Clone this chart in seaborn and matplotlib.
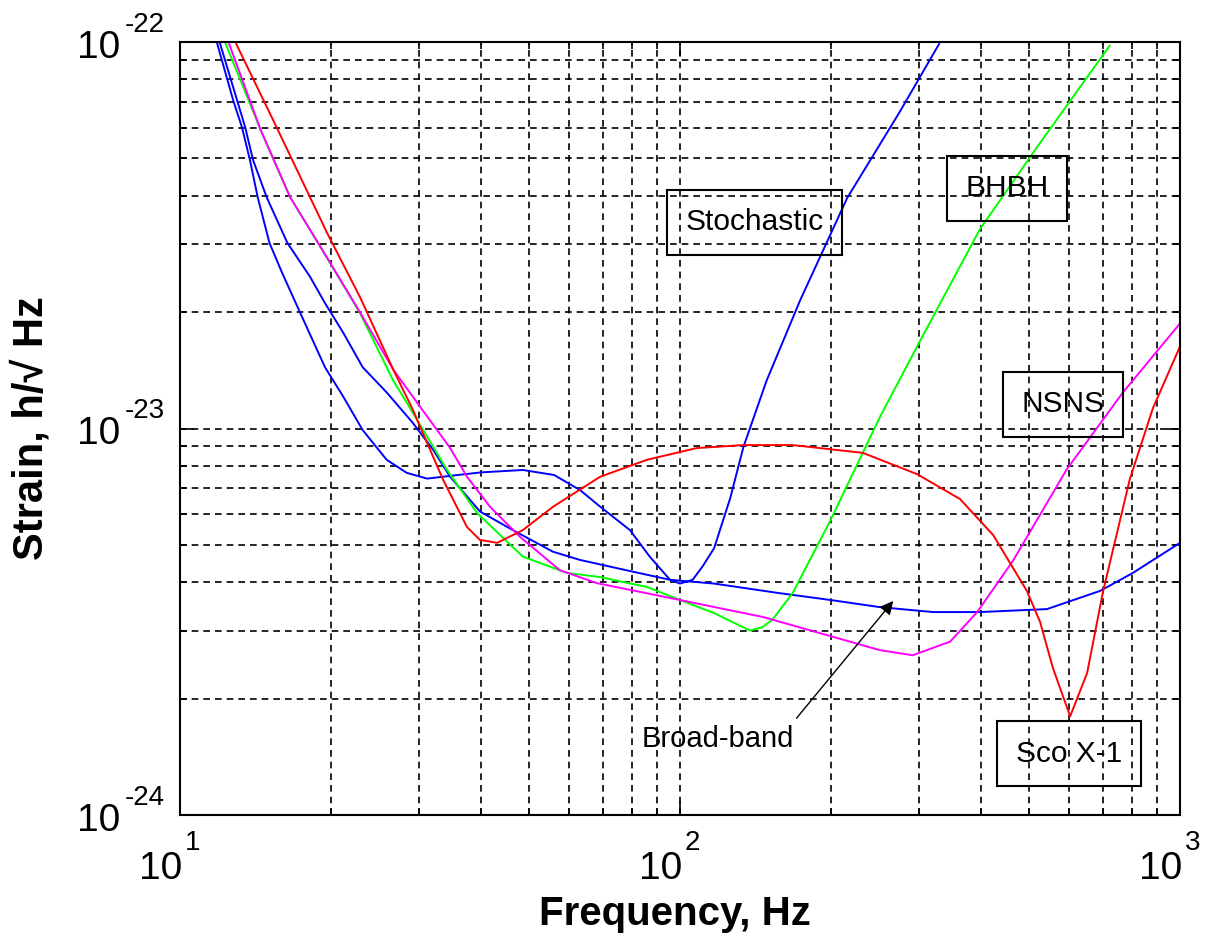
import numpy as np
import pandas as pd
import seaborn as sns
import matplotlib.pyplot as plt
from matplotlib.ticker import LogLocator, NullFormatter

# --- curve data (Hz, strain / sqrt(Hz)) ---
freq_stoch = [11.86, 12.77, 13.3, 13.8, 14.3, 15.1, 16.0, 17.4, 19.5, 21.2, 23.2,
              25.9, 28.4, 31.2, 35, 40, 48.5, 56, 63.1, 69, 79.4, 87, 95.5, 100,
              106, 111, 117, 126, 134, 149, 174, 216, 275, 330]
strain_stoch = [9.94e-23, 7.08e-23, 6.02e-23, 4.95e-23, 3.97e-23, 3.02e-23, 2.53e-23,
                1.99e-23, 1.44e-23, 1.21e-23, 9.9e-24, 8.3e-24, 7.68e-24, 7.42e-24,
                7.55e-24, 7.7e-24, 7.81e-24, 7.58e-24, 6.93e-24, 6.3e-24, 5.46e-24,
                4.66e-24, 4.06e-24, 3.97e-24, 4.06e-24, 4.4e-24, 4.9e-24, 6.6e-24,
                8.98e-24, 1.33e-23, 2.15e-23, 3.95e-23, 6.59e-23, 9.9e-23]

freq_broad = [12.0, 13.0, 13.5, 14.0, 14.9, 16.4, 18.2, 19.5, 21.2, 23.2, 25.9, 29.2,
              32.1, 34.7, 39.8, 46.3, 55.7, 63.1, 78, 95.5, 117, 158, 200, 251, 321,
              398, 542, 692, 805, 1000]
strain_broad = [1e-22, 7.08e-23, 6.02e-23, 4.95e-23, 3.97e-23, 3.02e-23, 2.47e-23,
                2.11e-23, 1.77e-23, 1.44e-23, 1.24e-23, 1.035e-23, 8.8e-24, 7.5e-24,
                6.1e-24, 5.46e-24, 4.8e-24, 4.57e-24, 4.3e-24, 4.06e-24, 3.97e-24,
                3.75e-24, 3.6e-24, 3.45e-24, 3.35e-24, 3.35e-24, 3.41e-24, 3.8e-24,
                4.23e-24, 5.06e-24]

freq_bhbh = [12.3, 14.5, 16.6, 19.1, 22.9, 26.7, 29.2, 34.2, 39.3, 48.5, 59.4, 69,
             85.9, 100, 117, 138, 146, 153, 168, 200, 251, 298, 398, 518, 724]
strain_bhbh = [1e-22, 5.92e-23, 3.97e-23, 2.95e-23, 1.99e-23, 1.33e-23, 1.1e-23,
               7.81e-24, 6.04e-24, 4.66e-24, 4.23e-24, 4.13e-24, 3.89e-24, 3.6e-24,
               3.33e-24, 3.0e-24, 3.06e-24, 3.2e-24, 3.75e-24, 5.79e-24, 1.07e-23,
               1.63e-23, 3.28e-23, 5.35e-23, 9.8e-23]

freq_nsns = [12.5, 14.5, 16.6, 19.1, 22.9, 26.7, 29.2, 34.7, 37.5, 41.7, 47.9, 57.5,
             68.2, 100, 147, 251, 292, 347, 393, 463, 594, 769, 1000]
strain_nsns = [1e-22, 5.92e-23, 3.97e-23, 2.95e-23, 2.0e-23, 1.42e-23, 1.21e-23,
               8.9e-24, 7.5e-24, 6.27e-24, 5.24e-24, 4.3e-24, 3.98e-24, 3.6e-24,
               3.25e-24, 2.67e-24, 2.59e-24, 2.81e-24, 3.35e-24, 4.54e-24, 7.85e-24,
               1.24e-23, 1.87e-23]

freq_sco = [12.9, 15.6, 19.7, 22.9, 26.7, 29.2, 33.6, 37.5, 39.8, 43.1, 48.5, 55.7,
            69.2, 85.9, 108, 134, 168, 232, 298, 363, 423, 494, 525, 557, 603, 652,
            702, 794, 883, 1000]
strain_sco = [1e-22, 6.02e-23, 3.2e-23, 2.19e-23, 1.42e-23, 1.12e-23, 7.36e-24,
              5.56e-24, 5.15e-24, 5.06e-24, 5.46e-24, 6.27e-24, 7.5e-24, 8.3e-24,
              8.9e-24, 9.06e-24, 9.06e-24, 8.65e-24, 7.62e-24, 6.57e-24, 5.3e-24,
              3.8e-24, 3.16e-24, 2.4e-24, 1.8e-24, 2.33e-24, 3.8e-24, 7.41e-24,
              1.13e-23, 1.63e-23]

curve_names = ["Stochastic", "Broad-band", "BHBH", "NSNS", "Sco X-1"]
curve_colors = ["#0000ff", "#0000ff", "#00ff00", "#ff00ff", "#ff0000"]

# boxed labels (data coords of box centre)
label_text = ["Stochastic", "BHBH", "NSNS", "Sco X-1"]
label_freq = [141, 451, 583, 600]
label_strain = [3.42e-23, 4.19e-23, 1.156e-23, 1.44e-24]

broad_text_pos = (119, 1.57e-24)
broad_arrow_tail = (171, 1.78e-24)
broad_arrow_tip = (267, 3.58e-24)

# decade tick labels, MATLAB-like "10" with raised exponent
xtick_vals = [10, 100, 1000]
xtick_exp = ["1", "2", "3"]
ytick_vals = [1e-24, 1e-23, 1e-22]
ytick_exp = ["-24", "-23", "-22"]

# --- style ---
sns.set_theme(style="white")
plt.rcParams['font.family'] = ['Liberation Sans', 'DejaVu Sans']
plt.rcParams['text.color'] = 'black'
plt.rcParams['axes.labelcolor'] = 'black'

series = [(freq_stoch, strain_stoch), (freq_broad, strain_broad),
          (freq_bhbh, strain_bhbh), (freq_nsns, strain_nsns), (freq_sco, strain_sco)]
df = pd.concat([pd.DataFrame({'curve': n, 'freq': f, 'strain': h})
                for n, (f, h) in zip(curve_names, series)], ignore_index=True)

fig = plt.figure(figsize=(12.14, 9.4), dpi=100)
ax = fig.add_axes([180 / 1214, 1 - 815 / 940, 1000 / 1214, 773 / 940])
ax.set_xscale('log')
ax.set_yscale('log')

sns.lineplot(data=df, x='freq', y='strain', hue='curve', hue_order=curve_names,
             palette=dict(zip(curve_names, curve_colors)), estimator=None,
             sort=False, linewidth=1.4, legend=False, ax=ax)

ax.set_xlim(10, 1000)
ax.set_ylim(1e-24, 1e-22)
ax.xaxis.set_major_locator(LogLocator(base=10, numticks=10))
ax.yaxis.set_major_locator(LogLocator(base=10, numticks=10))
ax.xaxis.set_minor_locator(LogLocator(base=10, subs=np.arange(2, 10), numticks=30))
ax.yaxis.set_minor_locator(LogLocator(base=10, subs=np.arange(2, 10), numticks=30))
for axis in (ax.xaxis, ax.yaxis):
    axis.set_major_formatter(NullFormatter())
    axis.set_minor_formatter(NullFormatter())

ax.set_axisbelow(True)
ax.grid(True, which='both', color='black', linestyle=(0, (4, 3)), linewidth=1.2)
ax.tick_params(which='both', direction='in', top=True, right=True, bottom=True,
               left=True, color='black', width=1.2)
ax.tick_params(which='major', length=10)
ax.tick_params(which='minor', length=5)
for s in ax.spines.values():
    s.set_color('black')
    s.set_linewidth(1.5)

base_fs, exp_fs = 28, 20
for v, e in zip(xtick_vals, xtick_exp):
    ax.annotate("10", xy=(v, 0), xycoords=('data', 'axes fraction'),
                xytext=(2, -64), textcoords='offset pixels', ha='right',
                va='baseline', fontsize=base_fs, color='black', annotation_clip=False)
    ax.annotate(e, xy=(v, 0), xycoords=('data', 'axes fraction'),
                xytext=(5, -35), textcoords='offset pixels', ha='left',
                va='baseline', fontsize=exp_fs, color='black', annotation_clip=False)
for v, e in zip(ytick_vals, ytick_exp):
    ax.annotate("10", xy=(0, v), xycoords=('axes fraction', 'data'),
                xytext=(-60, -16), textcoords='offset pixels', ha='right',
                va='baseline', fontsize=base_fs, color='black', annotation_clip=False)
    ax.annotate(e, xy=(0, v), xycoords=('axes fraction', 'data'),
                xytext=(-55, 10), textcoords='offset pixels', ha='left',
                va='baseline', fontsize=exp_fs, color='black', annotation_clip=False)

ax.set_xlabel("Frequency, Hz", fontsize=29, fontweight='bold', color='black')
ax.set_ylabel("Strain, h/\u221a Hz", fontsize=30, fontweight='bold', color='black')
ax.xaxis.set_label_coords(0.495, -0.103)
ax.yaxis.set_label_coords(-0.128, 0.5)

for t, f, h in zip(label_text, label_freq, label_strain):
    ax.text(f, h, t, ha='center', va='center', fontsize=21.5, color='black',
            bbox=dict(boxstyle='square,pad=0.62', fc='none', ec='black', lw=1.5))

ax.text(*broad_text_pos, "Broad-band", ha='center', va='center', fontsize=21,
        color='black')
ax.annotate('', xy=broad_arrow_tip, xytext=broad_arrow_tail,
            arrowprops=dict(arrowstyle='-|>', color='black', lw=1.0,
                            mutation_scale=20, shrinkA=0, shrinkB=0))

fig.savefig("out.png", dpi=100, facecolor='white')
